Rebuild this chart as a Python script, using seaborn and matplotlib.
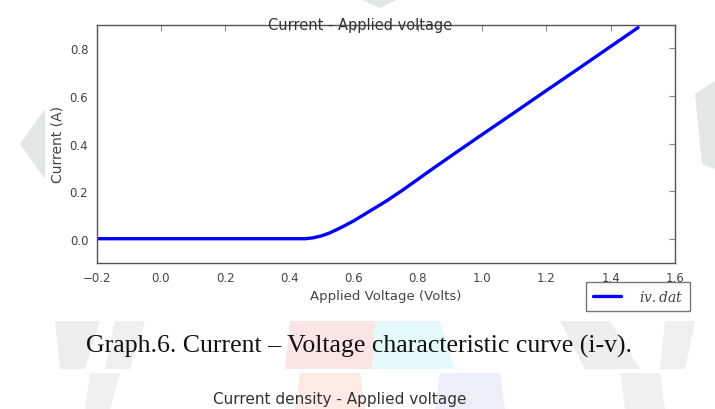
import numpy as np
import pandas as pd
import matplotlib
matplotlib.use("Agg")
import matplotlib.pyplot as plt
from matplotlib.patches import Polygon
from matplotlib.lines import Line2D
import seaborn as sns

# Diode i-v characteristic
voltage = [-0.2, 0.0, 0.2, 0.4, 0.45, 0.475, 0.5, 0.525, 0.55, 0.575, 0.6, 0.65, 0.7,
           0.75, 0.8, 0.85, 0.9, 1.0, 1.1, 1.2, 1.3, 1.4, 1.485]
current = [0.0, 0.0, 0.0, 0.0, 0.0, 0.004, 0.012, 0.024, 0.04, 0.057, 0.075, 0.116, 0.157,
           0.202, 0.25, 0.298, 0.345, 0.438, 0.53, 0.623, 0.715, 0.808, 0.887]
series_label = r"$iv.dat$"
xticks = [-0.2, 0.0, 0.2, 0.4, 0.6, 0.8, 1.0, 1.2, 1.4, 1.6]
yticks = [0.0, 0.2, 0.4, 0.6, 0.8]

df = pd.DataFrame({"V": voltage, "I": current, "src": series_label})

sns.set_style("white")
plt.rcParams["font.family"] = ["DejaVu Sans"]
plt.rcParams["mathtext.fontset"] = "dejavuserif"

W, H = 715, 410
fig = plt.figure(figsize=(W / 100, H / 100), dpi=100)
fig.patch.set_facecolor("white")

def px(x, y):
    return (x / W, 1 - y / H)

# faint page watermark shapes
wm = [
    ([(360, 0), (398, 0), (380, 9)], "#e2e6e6"),
    ([(45, 110), (20, 145), (45, 180)], "#e2e6e6"),
    ([(695, 95), (715, 82), (715, 170), (702, 165)], "#e4e7e7"),
    ([(55, 322), (100, 322), (85, 370), (60, 370)], "#eceeee"),
    ([(115, 322), (145, 322), (130, 370), (105, 370)], "#eef0f0"),
    ([(290, 322), (375, 322), (372, 370), (285, 370)], "#fbe4e4"),
    ([(375, 322), (440, 322), (455, 370), (372, 370)], "#e6f9fa"),
    ([(560, 322), (610, 322), (640, 370), (585, 370)], "#eceeee"),
    ([(665, 322), (695, 322), (685, 370), (660, 370)], "#eef0f0"),
    ([(300, 374), (360, 374), (365, 410), (295, 410)], "#fcebe4"),
    ([(440, 374), (500, 374), (505, 410), (435, 410)], "#eceffa"),
    ([(90, 374), (120, 374), (110, 410), (85, 410)], "#eff1f1"),
    ([(620, 374), (660, 374), (665, 410), (625, 410)], "#eff1f1"),
]
for pts, col in wm:
    fig.patches.append(Polygon([px(*p) for p in pts], closed=True, transform=fig.transFigure,
                               facecolor=col, edgecolor="none", zorder=0))

ax = fig.add_axes([96.7 / W, 1 - 263.5 / H, (675 - 96.7) / W, (263.5 - 25.5) / H])
ax.set_facecolor("white")
ax.set_zorder(2)

sns.lineplot(data=df, x="V", y="I", hue="src", palette=["#0000ff"], linewidth=2.4,
             estimator=None, sort=False, ax=ax, legend=False)

ax.set_xlim(-0.2, 1.6)
ax.set_ylim(-0.1, 0.9)
ax.set_xticks(xticks)
ax.set_yticks(yticks)
ax.set_xticklabels([f"{t:.1f}".replace("-", "\u2212") for t in xticks])
ax.set_yticklabels([f"{t:.1f}" for t in yticks])
ax.tick_params(direction="in", length=4, width=0.8, colors="#888888",
               top=True, right=True, labelsize=8.5, labelcolor="#444444", pad=6)
for s in ax.spines.values():
    s.set_color("#555555")
    s.set_linewidth(1.0)

ax.set_xlabel("Applied Voltage (Volts)", fontsize=9.5, color="#444444", labelpad=4)
ax.set_ylabel("Current (A)", fontsize=10, color="#444444", labelpad=4)
ax.set_title("Current - Applied voltage", fontsize=10.5, color="#333333", x=0.455, y=1.0, pad=-3)

# legend below the lower-right corner of the axes
handle = Line2D([], [], color="#0000ff", linewidth=2.4)
leg = fig.legend([handle], [series_label], loc="upper left",
                 bbox_to_anchor=(586 / W, 1 - 283 / H), borderaxespad=0, frameon=True,
                 fancybox=False, fontsize=10, handlelength=2.0, borderpad=0.5,
                 handletextpad=1.3)
leg.get_frame().set_edgecolor("#555555")
leg.get_frame().set_linewidth(1.0)
for t in leg.get_texts():
    t.set_color("#444444")

fig.text(359 / W, 1 - 346 / H, "Graph.6. Current \u2013 Voltage characteristic curve (i-v).",
         ha="center", va="center", fontsize=18.5, family=["Liberation Serif", "DejaVu Serif"],
         color="#111111", zorder=3)
fig.text(340 / W, 1 - 400 / H, "Current density - Applied voltage",
         ha="center", va="center", fontsize=11,
         family=["Liberation Sans Narrow", "DejaVu Sans"], color="#333333", zorder=3)

fig.savefig("out.png", dpi=100, facecolor="white")
